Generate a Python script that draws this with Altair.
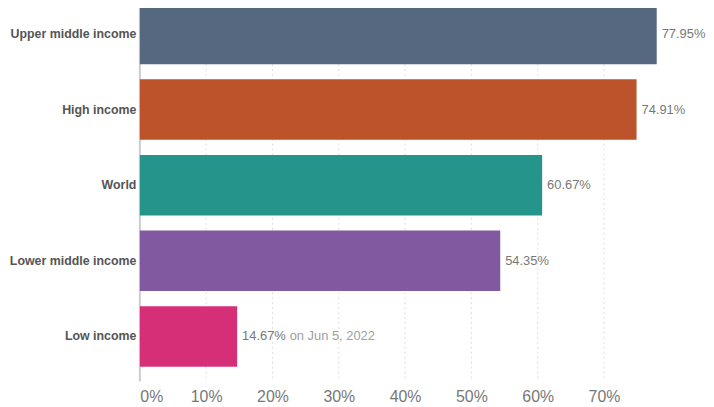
import altair as alt
import pandas as pd

categories = ["Upper middle income", "High income", "World", "Lower middle income", "Low income"]
values = [77.95, 74.91, 60.67, 54.35, 14.67]
colors = ["#566880", "#BD532B", "#25958B", "#8059A0", "#D62F78"]
x_ticks = [0, 10, 20, 30, 40, 50, 60, 70]
note_category = "Low income"
date_note = "on Jun 5, 2022"

df = pd.DataFrame({
    "category": categories,
    "value": values,
    "label": [f"{v:.2f}%" for v in values],
})
note_df = pd.DataFrame({
    "category": [note_category],
    "value": [values[categories.index(note_category)]],
    "note": [date_note],
})
grid_df = pd.DataFrame({"tick": [t for t in x_ticks if t != 0]})
zero_df = pd.DataFrame({"tick": [0]})

FONT = "Liberation Sans"
H = 384

x_scale = alt.Scale(domain=[0, 80], nice=False, zero=True)

y = alt.Y(
    "category:N", sort=categories, title=None,
    scale=alt.Scale(paddingInner=0.2, paddingOuter=0.118),
    axis=alt.Axis(labelFont=FONT, labelFontWeight="bold", labelFontSize=12.5,
                  labelColor="#555555", labelPadding=4, ticks=False,
                  domain=False, grid=False),
)
x = alt.X(
    "value:Q", title=None, scale=x_scale,
    axis=alt.Axis(values=x_ticks, labelExpr="datum.value + '%'", labelFont=FONT,
                  labelFontSize=16, labelColor="#777777", labelPadding=13,
                  labelFlush=True, ticks=False, domain=False, grid=False),
)

grid = alt.Chart(grid_df).mark_rule(color="#dddddd", strokeWidth=1, strokeDash=[2, 3]).encode(
    x=alt.X("tick:Q", scale=x_scale), y=alt.value(0), y2=alt.value(H + 6)
)
zero_line = alt.Chart(zero_df).mark_rule(color="#cccccc", strokeWidth=2).encode(
    x=alt.X("tick:Q", scale=x_scale), y=alt.value(0), y2=alt.value(H + 6)
)

bars = alt.Chart(df).mark_bar().encode(
    x=x, y=y,
    color=alt.Color("category:N", sort=categories,
                    scale=alt.Scale(domain=categories, range=colors), legend=None),
)

labels = alt.Chart(df).mark_text(align="left", baseline="middle", dx=5, fontSize=13,
                                 font=FONT, color="#777777").encode(
    x="value:Q", y=alt.Y("category:N", sort=categories), text="label:N"
)

notes = alt.Chart(note_df).mark_text(align="left", baseline="middle", dx=53, fontSize=13,
                                     font=FONT, color="#a0a0a0").encode(
    x="value:Q", y=alt.Y("category:N", sort=categories), text="note:N"
)

chart = alt.layer(grid, zero_line, bars, labels, notes).properties(
    width=535, height=H,
    autosize=alt.AutoSizeParams(type="none"),
    padding={"left": 133, "top": -15, "right": 36, "bottom": 30},
).configure_view(stroke=None)

chart.save("out.html", embed_options={"renderer": "svg", "actions": False})
